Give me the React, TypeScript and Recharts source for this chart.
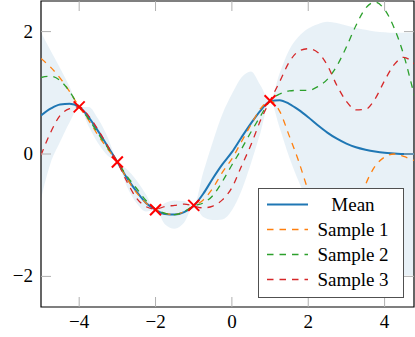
import React from 'react';
import { ComposedChart, Area, Line, Scatter, XAxis, YAxis, ReferenceArea, Legend } from 'recharts';

// ---- data ----
const xs = [-5, -4.75, -4.5, -4.25, -4, -3.75, -3.5, -3.25, -3, -2.75, -2.5, -2.25, -2, -1.75, -1.5, -1.25, -1, -0.75, -0.5, -0.25, 0, 0.25, 0.5, 0.75, 1, 1.25, 1.5, 1.75, 2, 2.25, 2.5, 2.75, 3, 3.25, 3.5, 3.75, 4, 4.25, 4.5, 4.75, 5];
const meanVals = [0.63, 0.74, 0.81, 0.82, 0.77, 0.6, 0.37, 0.12, -0.13, -0.39, -0.61, -0.8, -0.91, -0.98, -0.99, -0.95, -0.85, -0.65, -0.4, -0.17, 0.03, 0.27, 0.5, 0.71, 0.86, 0.88, 0.82, 0.72, 0.6, 0.47, 0.35, 0.25, 0.17, 0.11, 0.07, 0.04, 0.02, 0.01, 0.0, 0.0, 0.0];
const lowerVals = [-0.73, -0.15, 0.2, 0.52, 0.77, 0.45, 0.17, -0.03, -0.13, -0.53, -0.8, -0.94, -0.91, -1.15, -1.22, -1.12, -0.85, -1.03, -1.08, -1.07, -0.92, -0.6, -0.15, 0.35, 0.87, 0.43, -0.05, -0.45, -0.8, -1.1, -1.4, -1.6, -1.75, -1.84, -1.9, -1.93, -1.95, -1.97, -1.98, -1.98, -1.98];
const upperVals = [1.99, 1.69, 1.4, 1.1, 0.77, 0.77, 0.57, 0.27, -0.13, -0.25, -0.43, -0.66, -0.91, -0.8, -0.76, -0.77, -0.85, -0.3, 0.2, 0.65, 0.98, 1.25, 1.35, 1.12, 0.87, 1.32, 1.7, 1.92, 2.05, 2.12, 2.16, 2.14, 2.1, 2.06, 2.03, 2.0, 1.99, 1.98, 1.98, 1.98, 1.98];
const sample1 = [1.56, 1.42, 1.24, 1.02, 0.77, 0.55, 0.3, 0.08, -0.13, -0.4, -0.63, -0.8, -0.9, -0.97, -0.99, -0.94, -0.85, -0.75, -0.56, -0.3, -0.08, 0.2, 0.48, 0.74, 0.87, 0.7, 0.3, -0.12, -0.6, -1.0, -1.3, -1.4, -1.3, -0.95, -0.5, -0.2, -0.05, 0.0, -0.04, -0.1, -0.15];
const sample2 = [1.25, 1.27, 1.2, 1.02, 0.77, 0.57, 0.33, 0.1, -0.13, -0.36, -0.56, -0.76, -0.9, -0.97, -0.99, -0.94, -0.85, -0.8, -0.68, -0.45, -0.18, 0.08, 0.36, 0.62, 0.87, 0.98, 1.03, 1.04, 1.04, 1.1, 1.22, 1.44, 1.75, 2.1, 2.38, 2.48, 2.36, 2.06, 1.62, 1.03, 0.45];
const sample3 = [-0.02, 0.35, 0.63, 0.74, 0.77, 0.62, 0.39, 0.13, -0.13, -0.45, -0.72, -0.86, -0.9, -0.86, -0.84, -0.82, -0.85, -0.88, -0.85, -0.75, -0.55, -0.2, 0.15, 0.55, 0.87, 1.18, 1.5, 1.68, 1.72, 1.66, 1.45, 1.12, 0.86, 0.72, 0.73, 0.9, 1.2, 1.46, 1.58, 1.49, 1.3];
const obsX = [-4, -3, -2, -1, 1];
const obsY = [0.77, -0.13, -0.91, -0.84, 0.87];
const xTicks = [-4, -2, 0, 2, 4];
const yTicks = [-2, 0, 2];
const seriesNames = ['Mean', 'Sample 1', 'Sample 2', 'Sample 3'];

// ---- styling / layout ----
const W = 415;
const H = 337;
const MARGIN = { top: 1, right: 1, bottom: 0, left: 0 };
const YAXIS_W = 41;
const XAXIS_H = 30;
const PLOT_L = MARGIN.left + YAXIS_W;
const PLOT_R = W - MARGIN.right;
const PLOT_T = MARGIN.top;
const PLOT_B = H - MARGIN.bottom - XAXIS_H;
const FONT = "'Liberation Serif', 'Times New Roman', serif";
const FONT_SIZE = 19;
const TICK_COLOR = '#b0b0b0';
const TICK_LEN = 10;
const BLUE = '#1f77b4';
const COLORS = [BLUE, '#ff7f0e', '#2ca02c', '#d62728'];
const DASH = '6.5 6';

const data = xs.map((x, i) => ({
  x,
  mean: meanVals[i],
  band: [lowerVals[i], upperVals[i]],
  s1: sample1[i],
  s2: sample2[i],
  s3: sample3[i],
}));
const obsData = obsX.map((x, i) => ({ x, y: obsY[i] }));

const fmt = (v: number) => (v < 0 ? '\u2212' + Math.abs(v) : String(v));

const XTick = (props: any) => {
  const { x, payload } = props;
  return (
    <g>
      <line x1={x} x2={x} y1={PLOT_B} y2={PLOT_B - TICK_LEN} stroke={TICK_COLOR} strokeWidth={1} />
      <line x1={x} x2={x} y1={PLOT_T} y2={PLOT_T + TICK_LEN} stroke={TICK_COLOR} strokeWidth={1} />
      <text x={x} y={PLOT_B + 21} textAnchor="middle" fontFamily={FONT} fontSize={FONT_SIZE} fill="#000">
        {fmt(payload.value)}
      </text>
    </g>
  );
};

const YTick = (props: any) => {
  const { y, payload } = props;
  return (
    <g>
      <line x1={PLOT_L} x2={PLOT_L + TICK_LEN} y1={y} y2={y} stroke={TICK_COLOR} strokeWidth={1} />
      <line x1={PLOT_R - TICK_LEN} x2={PLOT_R} y1={y} y2={y} stroke={TICK_COLOR} strokeWidth={1} />
      <text x={PLOT_L - 8} y={y + 6} textAnchor="end" fontFamily={FONT} fontSize={FONT_SIZE} fill="#000">
        {fmt(payload.value)}
      </text>
    </g>
  );
};

const Cross = (props: any) => {
  const { cx, cy } = props;
  const s = 5.5;
  return (
    <g>
      <line x1={cx - s} y1={cy - s} x2={cx + s} y2={cy + s} stroke="#ff0000" strokeWidth={2} />
      <line x1={cx - s} y1={cy + s} x2={cx + s} y2={cy - s} stroke="#ff0000" strokeWidth={2} />
    </g>
  );
};

const LegendBox = () => (
  <div
    style={{
      width: 146,
      height: 110,
      boxSizing: 'border-box',
      border: '1px solid #505050',
      background: '#fff',
      position: 'relative',
      fontFamily: FONT,
      fontSize: FONT_SIZE,
      color: '#000',
    }}
  >
    {seriesNames.map((name, i) => (
      <div key={name} style={{ position: 'absolute', left: 0, top: 3 + i * 25, width: '100%', height: 25 }}>
        <svg width={60} height={25} style={{ position: 'absolute', left: 0, top: 0 }}>
          <line
            x1={8}
            x2={49}
            y1={12.5}
            y2={12.5}
            stroke={COLORS[i]}
            strokeWidth={i === 0 ? 2 : 1.3}
            strokeDasharray={i === 0 ? undefined : DASH}
          />
        </svg>
        <span
          style={{
            position: 'absolute',
            left: 54,
            width: 80,
            top: 0,
            height: 25,
            lineHeight: '25px',
            textAlign: 'center',
            whiteSpace: 'nowrap',
          }}
        >
          {name}
        </span>
      </div>
    ))}
  </div>
);

export default function App() {
  return (
    <div style={{ position: 'absolute', left: 0, top: 0, width: W, height: H, background: '#fff' }}>
      <ComposedChart width={W} height={H} data={data} margin={MARGIN}>
        <XAxis
          dataKey="x"
          type="number"
          domain={[-5, 4.77]}
          allowDataOverflow
          ticks={xTicks}
          interval={0}
          axisLine={false}
          tickLine={false}
          tickSize={0}
          tickMargin={0}
          height={XAXIS_H}
          tick={(p: any) => <XTick {...p} />}
        />
        <YAxis
          type="number"
          domain={[-2.5, 2.5]}
          allowDataOverflow
          ticks={yTicks}
          interval={0}
          axisLine={false}
          tickLine={false}
          tickSize={0}
          tickMargin={0}
          width={YAXIS_W}
          tick={(p: any) => <YTick {...p} />}
        />
        <Area
          dataKey="band"
          type="monotone"
          stroke="none"
          fill={BLUE}
          fillOpacity={0.1}
          isAnimationActive={false}
          activeDot={false}
        />
        <Line dataKey="mean" type="monotone" stroke={COLORS[0]} strokeWidth={2} dot={false} activeDot={false} isAnimationActive={false} />
        <Line dataKey="s1" type="monotone" stroke={COLORS[1]} strokeWidth={1.3} strokeDasharray={DASH} dot={false} activeDot={false} isAnimationActive={false} />
        <Line dataKey="s2" type="monotone" stroke={COLORS[2]} strokeWidth={1.3} strokeDasharray={DASH} dot={false} activeDot={false} isAnimationActive={false} />
        <Line dataKey="s3" type="monotone" stroke={COLORS[3]} strokeWidth={1.3} strokeDasharray={DASH} dot={false} activeDot={false} isAnimationActive={false} />
        <Scatter data={obsData} dataKey="y" shape={(p: any) => <Cross {...p} />} isAnimationActive={false} />
        <ReferenceArea x1={-5} x2={4.77} y1={-2.5} y2={2.5} fill="none" fillOpacity={0} stroke="#000" strokeWidth={1.2} />
        <Legend
          layout="vertical"
          align="center"
          verticalAlign="middle"
          wrapperStyle={{ left: 258, top: 188, width: 146, height: 110 }}
          content={() => <LegendBox />}
        />
      </ComposedChart>
    </div>
  );
}
